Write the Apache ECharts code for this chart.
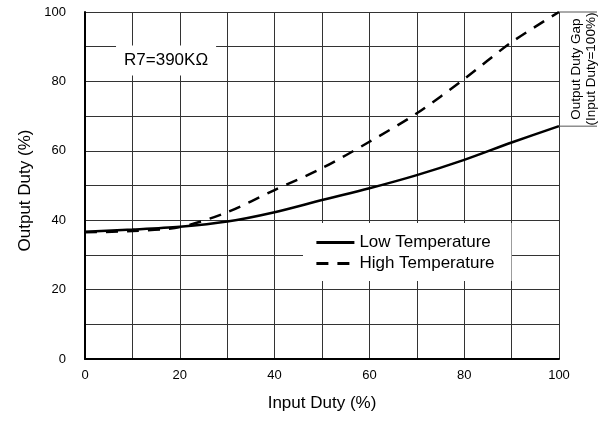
<!DOCTYPE html>
<html>
<head>
<meta charset="utf-8">
<script src="https://cdn.jsdelivr.net/npm/echarts@6/dist/echarts.min.js"></script>
<style>
  html, body { margin: 0; padding: 0; background: #fff; }
  #main { width: 605px; height: 421px; }
</style>
</head>
<body>
<div id="main"></div>
<script>
// values
const inputDuty = [0, 10, 20, 30, 40, 50, 60, 70, 80, 90, 100]
const lowTemp = [36.7, 37.3, 38.1, 39.6, 42.3, 45.8, 49.2, 53.0, 57.4, 62.4, 67.1]
const highTemp = [36.5, 36.9, 38.0, 42.3, 48.7, 55.0, 62.6, 70.8, 80.7, 91.3, 100]
const seriesNames = ['Low Temperature', 'High Temperature']
const noteText = 'R7=390K\u03A9'
const notePos = [17.1, 86]
const gapText = 'Output Duty Gap\n(Input Duty=100%)'

const font = "'Liberation Sans', Arial, sans-serif"
const chart = echarts.init(document.getElementById('main'))

const pairs = (ys) => inputDuty.map((x, i) => [x, ys[i]])
const gridLine = { show: true, lineStyle: { color: '#333', width: 1 } }

const option = {
    animation: false,
    backgroundColor: '#fff',
    grid: { left: 85, right: 46, top: 12, bottom: 62, containLabel: false, outerBoundsMode: 'none' },
    legend: {
        orient: 'vertical',
        left: 303,
        top: 223,
        padding: [11, 17, 9, 12],
        itemGap: 4,
        itemWidth: 38,
        itemHeight: 14,
        backgroundColor: '#fff',
        // hide the symbol drawn on the legend line
        itemStyle: { opacity: 0 },
        lineStyle: { width: 2.8 },
        textStyle: { fontFamily: font, fontSize: 17, color: '#000' },
        data: seriesNames
    },
    xAxis: {
        type: 'value',
        min: 0,
        max: 100,
        interval: 20,
        name: 'Input Duty (%)',
        nameLocation: 'middle',
        nameGap: 36,
        nameTextStyle: { fontFamily: font, fontSize: 17, color: '#000' },
        axisLine: { show: true, lineStyle: { color: '#000', width: 2 } },
        axisTick: { show: false },
        axisLabel: { fontFamily: font, fontSize: 13, color: '#000', margin: 10 },
        splitLine: gridLine,
        minorTick: { show: false, splitNumber: 2 },
        minorSplitLine: gridLine
    },
    yAxis: {
        type: 'value',
        min: 0,
        max: 100,
        interval: 20,
        name: 'Output Duty (%)',
        nameLocation: 'middle',
        nameGap: 50,
        nameTextStyle: { fontFamily: font, fontSize: 17, color: '#000', padding: [0, 0, 0, -10] },
        axisLine: { show: true, lineStyle: { color: '#000', width: 2 } },
        axisTick: { show: false },
        axisLabel: { fontFamily: font, fontSize: 13, color: '#000', margin: 19 },
        splitLine: gridLine,
        minorTick: { show: false, splitNumber: 2 },
        minorSplitLine: gridLine
    },
    series: [
        {
            name: seriesNames[0],
            type: 'line',
            data: pairs(lowTemp),
            smooth: 0.3,
            symbol: 'none',
            lineStyle: { color: '#000', width: 2.5, type: 'solid' },
            itemStyle: { color: '#000' }
        },
        {
            name: seriesNames[1],
            type: 'line',
            data: pairs(highTemp),
            smooth: 0.3,
            symbol: 'none',
            lineStyle: { color: '#000', width: 2.5, type: [12, 9] },
            itemStyle: { color: '#000' }
        }
    ]
}
chart.setOption(option)

// annotations placed from data coordinates
const last = inputDuty.length - 1
const pTop = chart.convertToPixel({ gridIndex: 0 }, [inputDuty[last], 100])
const pLow = chart.convertToPixel({ gridIndex: 0 }, [inputDuty[last], lowTemp[last]])
const pNote = chart.convertToPixel({ gridIndex: 0 }, notePos)

chart.setOption({
    graphic: [
        {
            type: 'line', z: 100,
            shape: { x1: pTop[0], y1: pTop[1], x2: pTop[0] + 38, y2: pTop[1] },
            style: { stroke: '#555', lineWidth: 1 }
        },
        {
            type: 'line', z: 100,
            shape: { x1: pLow[0], y1: pLow[1], x2: pLow[0] + 38, y2: pLow[1] },
            style: { stroke: '#555', lineWidth: 1 }
        },
        {
            type: 'text', z: 100,
            x: pTop[0] + 25,
            y: (pTop[1] + pLow[1]) / 2,
            rotation: Math.PI / 2,
            style: {
                text: gapText,
                fill: '#000',
                font: '13.5px ' + font,
                lineHeight: 15.5,
                align: 'center',
                verticalAlign: 'middle'
            }
        },
        {
            type: 'text', z: 100,
            x: pNote[0],
            y: pNote[1],
            style: {
                text: noteText,
                fill: '#000',
                font: '17px ' + font,
                align: 'center',
                verticalAlign: 'middle',
                backgroundColor: '#fff',
                padding: [7, 8, 6, 8]
            }
        }
    ]
})
</script>
</body>
</html>
